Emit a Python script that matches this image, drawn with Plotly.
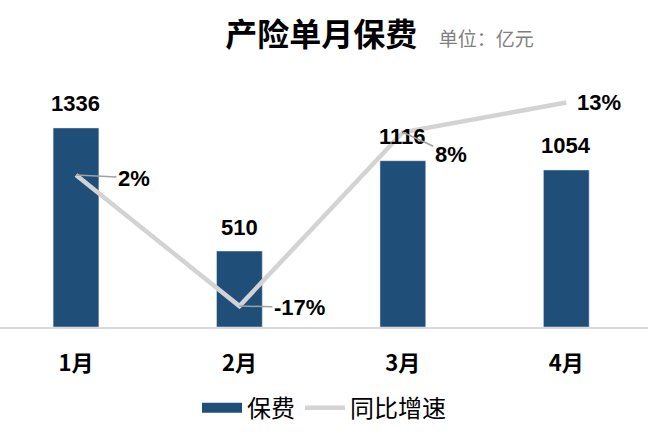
import plotly.graph_objects as go

months = ["1月", "2月", "3月", "4月"]
premium = [1336, 510, 1116, 1054]
growth = [2.0, -17.0, 8.2, 12.5]
growth_labels = ["2%", "-17%", "8%", "13%"]

BAR = "#1F4E79"
LINE = "#D3D3D3"
NUM_FONT = "Liberation Sans"
CJK = "Noto Sans CJK SC"

fig = go.Figure()
fig.add_trace(go.Bar(
    x=months, y=premium, name="保费", marker_color=BAR, width=0.28,
    yaxis="y", hoverinfo="skip", showlegend=False,
))
# legend-only entry to get a wide rectangular swatch for the bars
fig.add_trace(go.Scatter(
    x=[None], y=[None], name="保费", mode="lines",
    line=dict(color=BAR, width=16), yaxis="y", hoverinfo="skip",
))
fig.add_trace(go.Scatter(
    x=months, y=growth, name="同比增速", mode="lines",
    line=dict(color=LINE, width=4.5), yaxis="y2", hoverinfo="skip",
))

# bar value labels
for m, v in zip(months, premium):
    fig.add_annotation(x=m, y=v, xref="x", yref="y", text=f"<b>{v}</b>",
                       showarrow=False, yshift=24,
                       font=dict(family=NUM_FONT, size=22, color="black"))

# growth labels with leader lines (offsets in px)
offsets = [(58, 3), (60, 1), (48, 22), (33, 0)]
arrows = [True, True, True, False]
for m, g, lab, (dx, dy), a in zip(months, growth, growth_labels, offsets, arrows):
    fig.add_annotation(x=m, y=g, xref="x", yref="y2", text=f"<b>{lab}</b>",
                       showarrow=a, arrowhead=0, arrowwidth=1.5, arrowcolor="#A0A0A0",
                       ax=dx, ay=dy, xanchor="center", yanchor="middle",
                       xshift=0 if a else dx, yshift=0,
                       font=dict(family=NUM_FONT, size=22, color="black"),
                       standoff=0, startstandoff=0)

fig.update_layout(
    width=660, height=442,
    margin=dict(l=0, r=12, t=60, b=115),
    paper_bgcolor="white", plot_bgcolor="white",
    title=dict(
        text="<b>产险单月保费</b>   <span style='font-size:19px;color:#7F7F7F;font-weight:normal'>单位：亿元</span>",
        x=0.575, xanchor="center", y=0.922, yanchor="middle",
        font=dict(family=CJK, size=32, color="black"),
    ),
    xaxis=dict(
        type="category", range=[-0.465, 3.5],
        showgrid=False, showline=True, linecolor="#D9D9D9", linewidth=2,
        ticks="", ticklabelstandoff=16,
        tickfont=dict(family=CJK, size=22, color="black", weight="bold"),
    ),
    yaxis=dict(range=[0, 1792], visible=False, showgrid=False, zeroline=False),
    yaxis2=dict(range=[-20.03, 18.67], overlaying="y", side="right",
                visible=False, showgrid=False, zeroline=False),
    showlegend=True,
    legend=dict(orientation="h", x=0.5, xanchor="center", y=-0.22, yanchor="top",
                font=dict(family=CJK, size=24, color="black"),
                itemwidth=40, traceorder="normal"),
)

fig.write_html("out.html")
